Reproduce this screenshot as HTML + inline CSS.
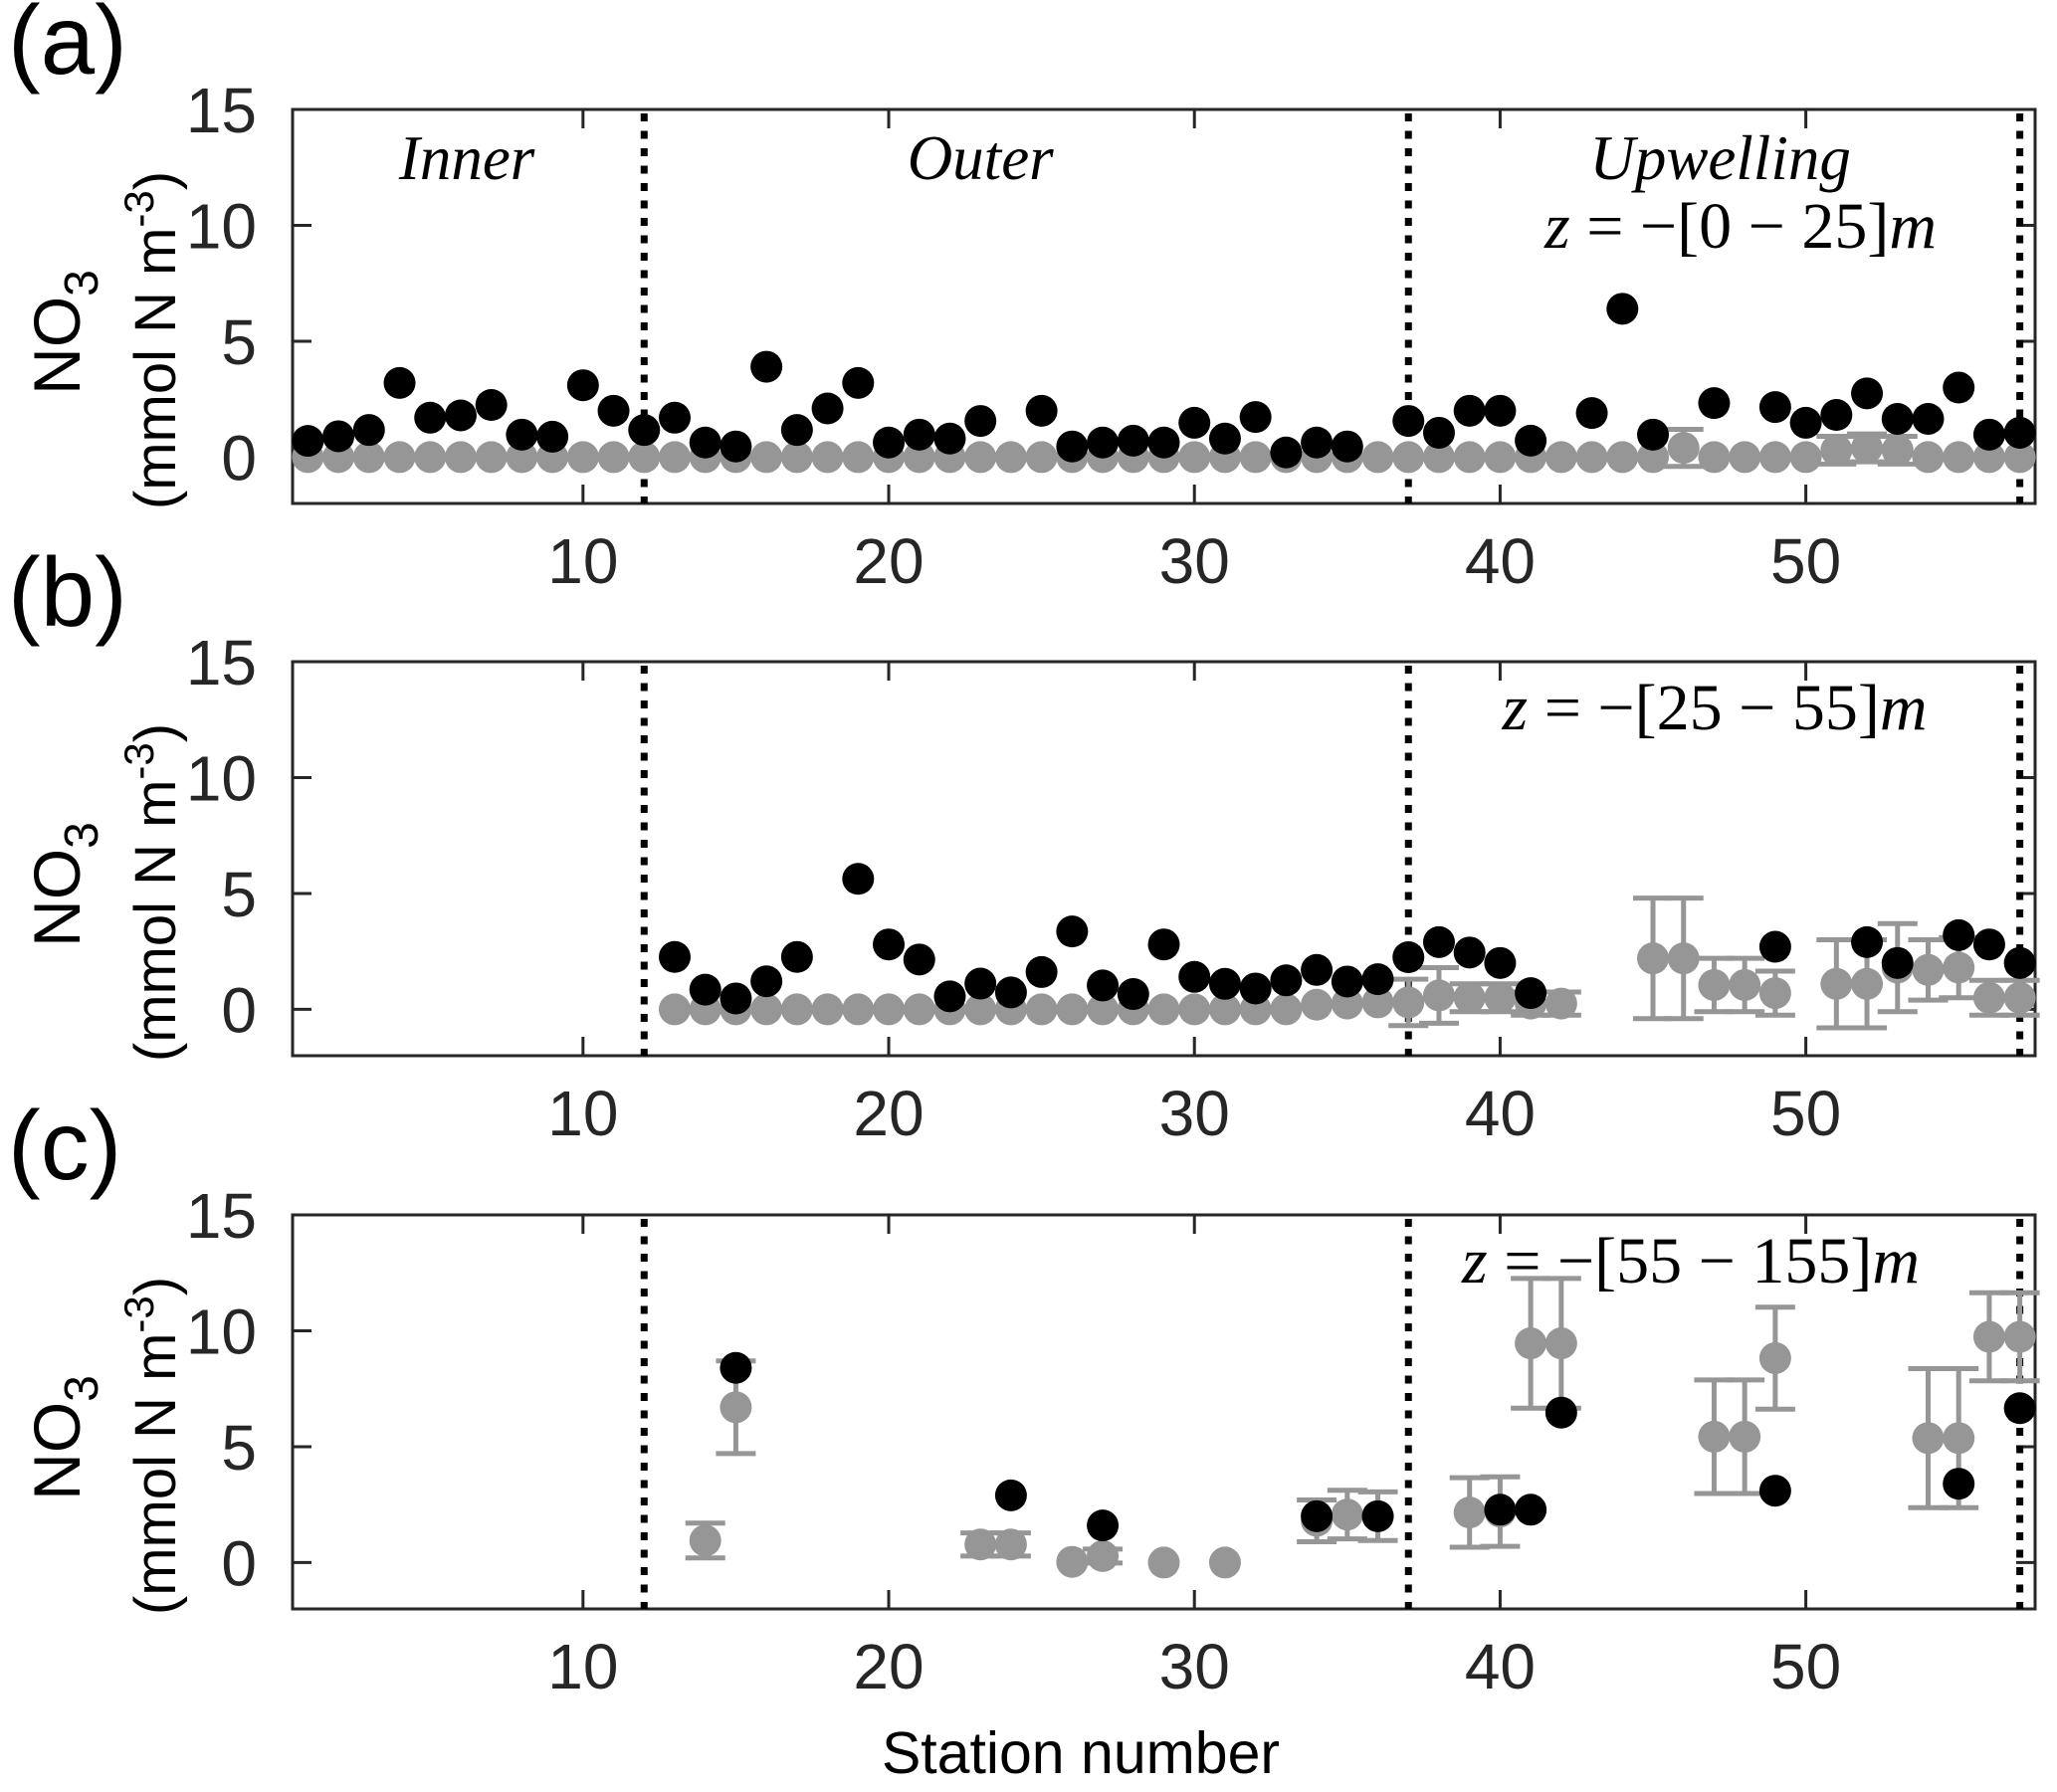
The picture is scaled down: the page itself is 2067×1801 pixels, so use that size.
<!DOCTYPE html>
<html><head><meta charset="utf-8">
<style>
html,body{margin:0;padding:0;background:#fff;}
svg{display:block;}
.tick{font-family:"Liberation Sans",sans-serif;font-size:64px;fill:#262626;}
.lab{font-family:"Liberation Sans",sans-serif;font-size:58px;fill:#000;}
.math{font-family:"Liberation Serif",serif;font-size:56px;fill:#000;}
</style></head>
<body>
<svg id="chart" width="2067" height="1801" viewBox="0 0 2067 1801" xmlns="http://www.w3.org/2000/svg">
<rect width="2067" height="1801" fill="#fff"/>
</svg>
<script>
// ---- data ----
const xTicks = [10, 20, 30, 40, 50];
const yTicks = [0, 5, 10, 15];
const regionBoundaries = [12, 37, 57];
const panelLetters = ["(a)", "(b)", "(c)"];
const depthLabels = ["0 \u2212 25", "25 \u2212 55", "55 \u2212 155"];
const regionNames = ["Inner", "Outer", "Upwelling"];
const regionCenters = [6.2, 23, 47.2];

const aBlackStations = [1,2,3,4,5,6,7,8,9,10,11,12,13,14,15,16,17,18,19,20,21,22,23,25,26,27,28,29,30,31,32,33,34,35,37,38,39,40,41,43,44,45,47,49,50,51,52,53,54,55,56,57];
const aBlackValues = [0.7,0.9,1.17,3.2,1.7,1.8,2.25,0.97,0.88,3.1,2.0,1.17,1.7,0.63,0.46,3.9,1.17,2.1,3.2,0.63,0.97,0.8,1.56,2.0,0.46,0.63,0.71,0.63,1.48,0.8,1.73,0.2,0.63,0.46,1.56,1.05,2.0,2.0,0.71,1.9,6.4,0.97,2.33,2.16,1.48,1.82,2.75,1.65,1.65,3.0,0.97,1.05];
const aGrayStations = [1,2,3,4,5,6,7,8,9,10,11,12,13,14,15,16,17,18,19,20,21,22,23,24,25,26,27,28,29,30,31,32,33,34,35,36,37,38,39,40,41,42,43,44,45,46,47,48,49,50,51,52,53,54,55,56,57];
const aGrayValues = [0,0,0,0,0,0,0,0,0,0,0,0,0,0,0,0,0,0,0,0,0,0,0,0,0,0,0,0,0,0,0,0,0,0,0,0,0,0,0,0,0,0,0,0,0,0.4,0,0,0,0,0.3,0.4,0.3,0,0,0,0];
const aGrayErrors = [0,0,0,0,0,0,0,0,0,0,0,0,0,0,0,0,0,0,0,0,0,0,0,0,0,0,0,0,0,0,0,0,0,0,0,0,0,0,0,0,0,0,0,0,0,0.8,0,0,0,0,0.6,0.6,0.6,0,0,0,0];

const bBlackStations = [13,14,15,16,17,19,20,21,22,23,24,25,26,27,28,29,30,31,32,33,34,35,36,37,38,39,40,41,49,52,53,55,56,57];
const bBlackValues = [2.26,0.85,0.47,1.21,2.26,5.63,2.8,2.15,0.56,1.11,0.73,1.61,3.36,1.03,0.66,2.8,1.4,1.1,0.9,1.25,1.7,1.2,1.3,2.25,2.9,2.45,2.0,0.7,2.7,2.9,2.0,3.2,2.8,2.0];
const bGrayStations = [13,14,15,16,17,18,19,20,21,22,23,24,25,26,27,28,29,30,31,32,33,34,35,36,37,38,39,40,41,42,45,46,47,48,49,51,52,53,54,55,56,57];
const bGrayValues = [0,0,0,0,0,0,0,0,0,0,0,0,0,0,0,0,0,0,0,0,0,0.2,0.25,0.3,0.3,0.6,0.5,0.5,0.25,0.25,2.2,2.2,1.05,1.05,0.7,1.1,1.1,1.8,1.7,1.8,0.5,0.5];
const bGrayErrors = [0,0,0,0,0,0,0,0,0,0,0,0,0,0,0,0,0,0,0,0,0,0,0,0,1.0,1.2,0.6,0.6,0.5,0.5,2.6,2.6,1.15,1.15,0.95,1.9,1.9,1.9,1.3,1.3,0.75,0.75];

const cBlackStations = [15,24,27,34,36,40,41,42,49,55,57];
const cBlackValues = [8.4,2.9,1.6,2.0,2.0,2.28,2.28,6.47,3.1,3.4,6.66];
const cGrayStations = [14,15,23,24,26,27,29,31,34,35,36,39,40,41,42,47,48,49,54,55,56,57];
const cGrayValues = [0.95,6.7,0.78,0.78,0.03,0.28,0,0,1.8,2.07,2.0,2.16,2.2,9.46,9.46,5.43,5.43,8.82,5.37,5.37,9.74,9.74];
const cGrayErrors = [0.75,2.0,0.5,0.5,0,0.3,0,0,0.9,1.05,1.05,1.5,1.5,2.8,2.8,2.45,2.45,2.2,3.0,3.0,1.9,1.9];

// ---- layout ----
const NS = "http://www.w3.org/2000/svg";
const svg = document.getElementById("chart");
const L = 294, R = 2045, H = 396;
const tops = [110, 665, 1221];
const xMin = 0.5, xMax = 57.5, yMin = -2, yMax = 15;
const GRAY = "#969696";
const RAD = 16;

function mk(tag, attrs, parent) {
  const e = document.createElementNS(NS, tag);
  for (const k in attrs) e.setAttribute(k, attrs[k]);
  (parent || svg).appendChild(e);
  return e;
}
function xs(v) { return L + (v - xMin) / (xMax - xMin) * (R - L); }
function ysF(top) { return v => top + H - (v - yMin) / (yMax - yMin) * H; }

const panels = [
  {bs: aBlackStations, bv: aBlackValues, gs: aGrayStations, gv: aGrayValues, ge: aGrayErrors},
  {bs: bBlackStations, bv: bBlackValues, gs: bGrayStations, gv: bGrayValues, ge: bGrayErrors},
  {bs: cBlackStations, bv: cBlackValues, gs: cGrayStations, gv: cGrayValues, ge: cGrayErrors}
];

panels.forEach((p, i) => {
  const top = tops[i], bot = top + H;
  const ys = ysF(top);
  const g = mk("g", {});
  
  

  const box = mk("rect", {x: L, y: top, width: R - L, height: H, fill: "none", stroke: "#262626", "stroke-width": 3}, g);
  
  

  xTicks.forEach(t => {
    const x = xs(t);
    mk("line", {x1: x, y1: bot, x2: x, y2: bot - 19, stroke: "#262626", "stroke-width": 3}, g);
    mk("line", {x1: x, y1: top, x2: x, y2: top + 19, stroke: "#262626", "stroke-width": 3}, g);
    const tl = mk("text", {x: x, y: bot + 80, "text-anchor": "middle", class: "tick"}, g);
    tl.textContent = t;
    
    
  });
  yTicks.forEach(t => {
    const y = ys(t);
    mk("line", {x1: L, y1: y, x2: L + 19, y2: y, stroke: "#262626", "stroke-width": 3}, g);
    mk("line", {x1: R, y1: y, x2: R - 19, y2: y, stroke: "#262626", "stroke-width": 3}, g);
    const tl = mk("text", {x: L - 36, y: y + 23, "text-anchor": "end", class: "tick"}, g);
    tl.textContent = t;
    
    
  });

  regionBoundaries.forEach(b => {
    const ln = mk("line", {x1: xs(b), y1: top + 4, x2: xs(b), y2: bot, stroke: "#000", "stroke-width": 7, "stroke-dasharray": "8 9.5"}, g);
    
    
  });

  p.gs.forEach((s, k) => {
    const e = p.ge[k];
    if (e > 0) {
      const x = xs(s), y1 = ys(p.gv[k] + e), y2 = ys(p.gv[k] - e);
      const eg = mk("g", {stroke: GRAY, "stroke-width": 5}, g);
      
      
      mk("line", {x1: x, y1: y1, x2: x, y2: y2}, eg);
      mk("line", {x1: x - 20, y1: y1, x2: x + 20, y2: y1}, eg);
      mk("line", {x1: x - 20, y1: y2, x2: x + 20, y2: y2}, eg);
    }
  });
  p.gs.forEach((s, k) => {
    const c = mk("circle", {cx: xs(s), cy: ys(p.gv[k]), r: RAD, fill: GRAY}, g);
    
    
  });
  p.bs.forEach((s, k) => {
    const c = mk("circle", {cx: xs(s), cy: ys(p.bv[k]), r: RAD, fill: "#000"}, g);
    
    
  });

  const pl = mk("text", {x: 8, y: top - 36, class: "lab", style: "font-size:98px"}, g);
  pl.textContent = panelLetters[i];
  
  

  const cy = top + 232;
  const yl = mk("text", {transform: "translate(80," + (cy - 8) + ") rotate(-90)", "text-anchor": "middle", class: "lab", style: "font-size:66px"}, g);
  
  
  yl.innerHTML = 'NO<tspan dy="18" style="font-size:48px">3</tspan>';
  const yl2 = mk("text", {transform: "translate(176," + cy + ") rotate(-90)", "text-anchor": "middle", class: "lab"}, g);
  
  
  yl2.innerHTML = '(mmol N m<tspan dy="-22" style="font-size:42px">-3</tspan><tspan dy="22">)</tspan>';

  const dY = [249, 733, 1289][i];
  const dX = [1749, 1723, 1699][i];
  const dl = mk("text", {x: dX, y: dY, "text-anchor": "middle", class: "math", style: "font-size:66px"}, g);
  
  
  dl.innerHTML = '<tspan font-style="italic">z</tspan> = \u2212[' + depthLabels[i] + ']<tspan font-style="italic">m</tspan>';
});

regionNames.forEach((n, k) => {
  const t = mk("text", {x: xs(regionCenters[k]), y: 180, "text-anchor": "middle", class: "math", "font-style": "italic", style: "font-size:63px"});
  t.textContent = n;
  
  
});

const xt = mk("text", {x: 1086, y: 1782, "text-anchor": "middle", class: "lab", style: "font-size:59px"});
xt.textContent = "Station number";


</script>
</body></html>
